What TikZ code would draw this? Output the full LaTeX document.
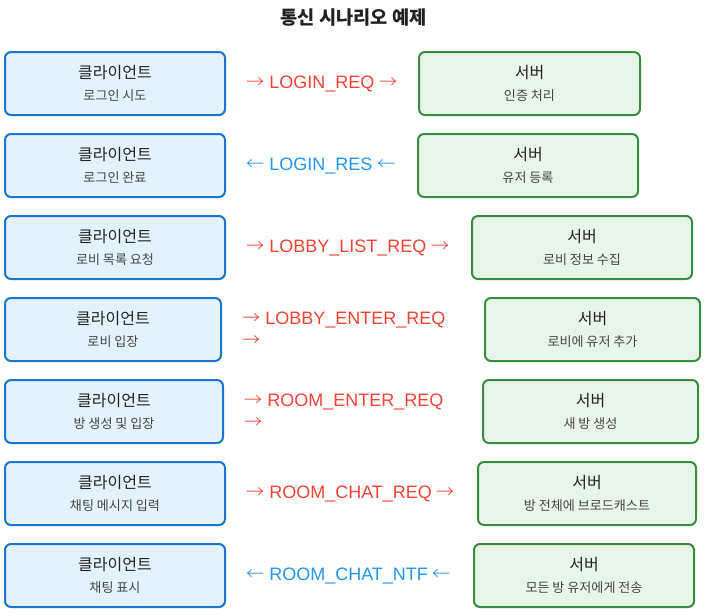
\documentclass[tikz,border=0pt]{standalone}
\usepackage{fontspec}
\setmainfont{Liberation Sans}
\newfontfamily\kr{Noto Sans CJK KR}
\newfontfamily\krfin{Noto Sans CJK KR Light}
\usepackage{xcolor}
\usetikzlibrary{positioning}
\definecolor{clientBord}{HTML}{1976D2}
\definecolor{clientFond}{HTML}{E3F2FD}
\definecolor{serveurBord}{HTML}{388E3C}
\definecolor{serveurFond}{HTML}{E8F5E9}
\definecolor{envoi}{HTML}{F44336}
\definecolor{retour}{HTML}{2196F3}
\definecolor{texte}{HTML}{222222}
\definecolor{sousTexte}{HTML}{444444}
\newcommand\px{0.75pt}
\newcommand\da{{\krfin →}}
\newcommand\ga{{\krfin ←}}
\tikzset{
    boite/.style = {line width=1.5pt, rounded corners=4.5pt, minimum height=63*\px,
        align=center, inner sep=0pt, text=texte,
        font=\kr\fontsize{12pt}{16.5pt}\selectfont},
    client/.style = {boite, draw=clientBord, fill=clientFond},
    serveur/.style = {boite, draw=serveurBord, fill=serveurFond},
    msg/.style = {inner sep=0pt, align=left, font=\fontsize{13.5pt}{16.5pt}\selectfont},
    req/.style = {msg, text=envoi},
    res/.style = {msg, text=retour},
    titre/.style = {font=\kr\bfseries\fontsize{14pt}{16pt}\selectfont, text=texte}
}
\newcommand\sous[1]{{\color{sousTexte}\fontsize{9.8pt}{11pt}\selectfont #1}}

\begin{document}
\begin{tikzpicture}[x=0.75pt, y=-0.75pt]
    \useasboundingbox (0,0) rectangle (707,615);
    \node[titre] (titre) at (353.5,18) {통신 시나리오 예제};
    \foreach \i/\cd/\sg/\sd/\ctxt/\stxt/\mtxt/\sty in {
            1/226/418/641/{로그인 시도}/{인증 처리}/{\da{} LOGIN\_REQ \da}/req,
            2/226/417/639/{로그인 완료}/{유저 등록}/{\ga{} LOGIN\_RES \ga}/res,
            3/226/471/693/{로비 목록 요청}/{로비 정보 수집}/{\da{} LOBBY\_LIST\_REQ \da}/req,
            4/222/484/701/{로비 입장}/{로비에 유저 추가}/{\da{} LOBBY\_ENTER\_REQ\\\da}/req,
            5/224/482/699/{방 생성 및 입장}/{새 방 생성}/{\da{} ROOM\_ENTER\_REQ\\\da}/req,
            6/226/477/697/{채팅 메시지 입력}/{방 전체에 브로드캐스트}/{\da{} ROOM\_CHAT\_REQ \da}/req,
            7/226/473/695/{채팅 표시}/{모든 방 유저에게 전송}/{\ga{} ROOM\_CHAT\_NTF \ga}/res} {
            \pgfmathsetmacro\y{83.5+82*(\i-1)}
            \node[client, minimum width={(\cd-6)*\px}] (c\i) at ({(4+\cd)/2},\y)
                {\rule{0pt}{4pt}클라이언트\\\sous{\ctxt}};
            \node[serveur, minimum width={(\sd-\sg-2)*\px}] (s\i) at ({(\sg+\sd)/2},\y)
                {\rule{0pt}{4pt}서버\\\sous{\stxt}};
            \node[\sty, right=15pt of c\i] (m\i) {\mtxt};
        }
\end{tikzpicture}
\end{document}
